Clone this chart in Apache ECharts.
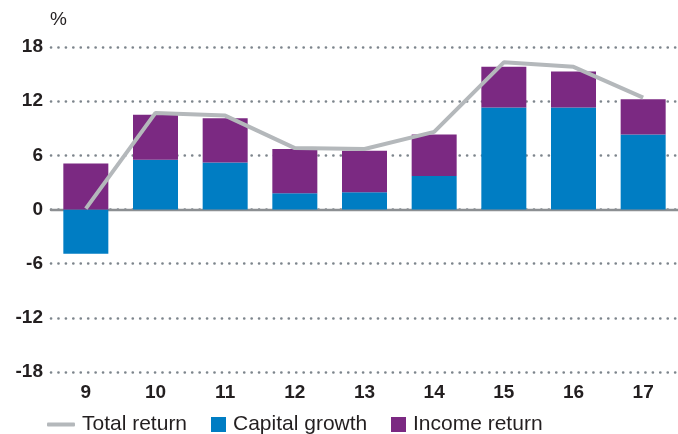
<!DOCTYPE html>
<html>
<head>
<meta charset="utf-8">
<script src="https://cdn.jsdelivr.net/npm/echarts@6/dist/echarts.min.js"></script>
<style>
  html, body { margin: 0; padding: 0; background: #fff; }
  #chart { width: 678px; height: 434px; }
</style>
</head>
<body>
<div id="chart"></div>
<script>
// Years (two-digit) along the bottom axis
const categories = ['9', '10', '11', '12', '13', '14', '15', '16', '17'];
// Return components, %
const capitalGrowth = [-4.9, 5.5, 5.2, 1.8, 1.9, 3.7, 11.3, 11.3, 8.3];
const incomeReturn  = [5.1, 5.0, 4.9, 4.9, 4.6, 4.6, 4.5, 4.0, 3.9];
const totalReturn   = [0.1, 10.7, 10.4, 6.8, 6.7, 8.6, 16.3, 15.8, 12.4];
// Value axis range and step
const yMin = -18, yMax = 18, yStep = 6;

const FONT = 'Liberation Sans, Arial, Helvetica, sans-serif';
const INK = '#231f20';
const BLUE = '#007dc3';
const PURPLE = '#7b2982';
const GREY_LINE = '#b4b8bb';

const chart = echarts.init(document.getElementById('chart'), null, { renderer: 'canvas' });

const legendBase = {
  top: 414,
  padding: 0,
  itemGap: 0,
  textStyle: { fontFamily: FONT, fontSize: 21, color: INK, padding: [0, 0, 0, 2] },
  selectedMode: false
};

chart.setOption({
  animation: false,
  backgroundColor: '#ffffff',
  grid: { left: 51, top: 47, width: 630, height: 325, containLabel: false },
  legend: [
    Object.assign({}, legendBase, {
      left: 47, data: [{ name: 'Total return', icon: 'roundRect' }],
      itemWidth: 28, itemHeight: 4
    }),
    Object.assign({}, legendBase, {
      left: 211, data: [{ name: 'Capital growth', icon: 'rect' }],
      itemWidth: 15, itemHeight: 15
    }),
    Object.assign({}, legendBase, {
      left: 391, data: [{ name: 'Income return', icon: 'rect' }],
      itemWidth: 15, itemHeight: 15
    })
  ],
  xAxis: [
    {
      type: 'category',
      data: categories,
      position: 'bottom',
      axisLine: { show: false, onZero: false },
      axisTick: { show: false },
      axisLabel: {
        margin: 11,
        fontFamily: FONT, fontSize: 19, fontWeight: 'bold', color: INK
      },
      splitLine: { show: false }
    },
    {
      // zero baseline
      type: 'category',
      data: categories,
      position: 'bottom',
      axisLine: { show: true, onZero: true, lineStyle: { color: '#8c8f92', width: 2.4 } },
      axisTick: { show: false },
      axisLabel: { show: false },
      splitLine: { show: false }
    }
  ],
  yAxis: {
    type: 'value',
    min: yMin, max: yMax, interval: yStep,
    name: '%',
    nameLocation: 'end',
    nameGap: 27,
    nameTextStyle: {
      fontFamily: FONT, fontSize: 19, color: INK,
      align: 'left', verticalAlign: 'middle', padding: [0, 0, 0, -1]
    },
    axisLine: { show: false },
    axisTick: { show: false },
    axisLabel: {
      margin: 8,
      fontFamily: FONT, fontSize: 19, fontWeight: 'bold', color: INK
    },
    splitLine: {
      show: true,
      lineStyle: { color: '#7d858c', width: 2.6, type: [0.1, 7.33], cap: 'round' }
    }
  },
  series: [
    {
      name: 'Capital growth',
      type: 'bar',
      stack: 'ret',
      barWidth: 45,
      itemStyle: { color: BLUE },
      data: capitalGrowth
    },
    {
      name: 'Income return',
      type: 'bar',
      stack: 'ret',
      barWidth: 45,
      itemStyle: { color: PURPLE },
      data: incomeReturn
    },
    {
      name: 'Total return',
      type: 'line',
      symbol: 'none',
      z: 5,
      lineStyle: { color: GREY_LINE, width: 4 },
      itemStyle: { color: GREY_LINE },
      data: totalReturn
    }
  ]
});
</script>
</body>
</html>
